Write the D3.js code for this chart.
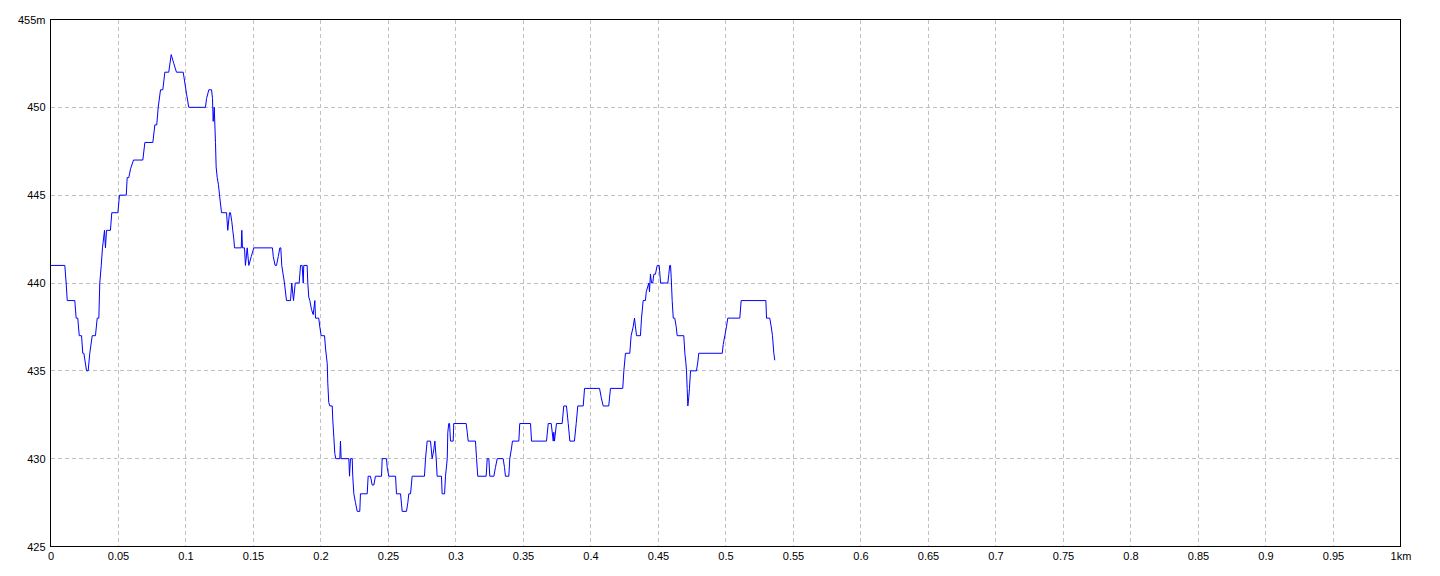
<!DOCTYPE html>
<html>
<head>
<meta charset="utf-8">
<script src="https://cdn.jsdelivr.net/npm/d3@7"></script>
<style>
  html, body { margin: 0; padding: 0; background: #fff; }
  svg { display: block; }
  .tick text { font-family: "Liberation Sans", "DejaVu Sans", sans-serif; font-size: 11px; fill: #000; }
</style>
</head>
<body>
<svg id="chart" width="1440" height="576"></svg>
<script>
// distance along route (metres)
const distM = [
0,10.6,11.6,12.4,18.0,19.0,20.2,21.3,23.0,23.9,24.7,26.7,27.9,29.1,30.9,33.3,34.6,35.8,36.5,37.6,
38.5,40.0,40.7,41.5,44.4,45.4,49.9,51.1,56.1,56.8,58.0,59.3,61.5,68.4,69.9,75.8,77.3,78.7,79.8,81.5,
83.2,84.7,87.6,89.4,91.3,93.3,98.3,99.3,100.7,102.4,114.8,115.6,117.3,119.3,120.0,120.5,121.3,122.2,122.7,123.5,
124.4,125.2,126.7,130.4,131.3,132.6,133.3,134.3,135.0,135.8,136.3,141.3,141.7,142.2,143.7,144.4,145.7,146.9,148.7,150.6,
164.4,165.0,166.4,167.4,168.7,169.9,170.6,171.3,173.3,174.8,177.8,178.7,180.0,181.3,184.2,185.2,186.4,187.2,187.6,190.1,
190.6,191.3,192.1,193.3,194.6,195.8,196.3,198.7,199.5,200.5,203.0,203.7,205.0,205.4,206.1,206.9,208.7,209.1,209.9,210.6,
211.3,214.3,214.8,215.3,221.0,221.5,222.2,223.5,223.9,224.7,225.9,227.2,229.1,229.6,234.6,235.3,237.0,238.3,239.5,240.7,
245.2,245.7,248.9,249.4,250.6,255.6,256.3,259.3,260.5,263.7,264.7,265.4,266.7,267.9,277.0,277.8,279.0,281.5,282.7,283.9,
284.7,285.7,286.4,289.6,290.1,291.9,292.6,293.9,294.3,295.0,295.6,296.3,298.3,298.7,307.9,308.7,309.4,314.8,315.6,316.5,
322.7,323.5,324.7,325.4,328.4,329.6,330.9,335.3,336.3,337.0,339.5,340.2,341.3,342.2,346.9,347.6,355.6,356.3,367.4,368.7,
370.9,372.4,372.8,373.3,374.8,379.0,380.2,382.2,383.5,384.7,388.1,389.4,390.6,394.6,395.6,406.7,407.9,409.4,413.5,414.8,
423.9,424.7,425.9,429.1,430.1,431.6,432.6,433.3,434.1,437.0,437.8,439.0,440.7,441.3,443.2,443.7,444.4,445.2,446.1,446.9,
448.1,449.4,450.9,451.9,457.3,458.0,458.7,459.3,459.8,460.5,461.3,462.4,463.5,464.2,469.1,469.9,470.6,471.1,471.6,472.1,
472.8,473.3,474.1,478.5,479.5,480.2,497.6,498.3,499.5,500.7,501.7,510.6,511.6,529.9,530.4,532.8,533.9,534.8,535.8,536.5
];
// elevation (metres)
const elevM = [
441,441,440,439,439,438,438,437,437,436,436,435,435,436,437,437,438,438,440,441,
442,443,442,443,443,444,444,445,445,446,446,446.5,447,447,448,448,449,449,450,451,
451,452,452,453,452.5,452,452,451.5,450.8,450,450,450.5,451,451,450.5,449.2,450,448,446.6,446,
445.6,445,444,444,443,444,444,443.5,443,442.5,442,442,443,442,442,441,442,441,441.5,442,
442,441.5,441,441,441.5,442,442,441,440,439,439,440,439,440,440,441,441,440,441,441,
440,439.2,439,438.5,438.2,439,438,438,437.5,437,437,436.3,435.4,434.3,433.2,433,433,432.2,431.2,430.3,
430,430,431,430,430,429,430,430,429,428,427.5,427,427,428,428,429,429,428.5,428.5,429,
429,430,430,429.5,429,429,428,428,427,427,427.5,428,428,429,429,430,431,431,430,430.5,
431,430,429,429,428,428,429,430,431.5,432,432,431,431,432,432,431.5,431,431,430,429,
429,430,430,429,429,429.5,430,430,429.5,429,429,430,430.5,431,431,432,432,431,431,432,
432,431,431.5,431,432,432,433,433,432,431,431,432,433,433,434,434,433.5,433,433,434,
434,435,436,436,437,437.5,438,437.5,437,437,438,439,439,439.5,440,439.5,440.5,440,440,440.5,
440.5,441,441,440,440,440.5,441,441,440.3,439,438,438,437.5,437,437,436,435.5,435,434,433,
433.5,434,435,435,435.5,436,436,436.5,437,437.5,438,438,439,439,438,438,437.5,437,436,435.6
];
const xTickValues = [0,0.05,0.1,0.15,0.2,0.25,0.3,0.35,0.4,0.45,0.5,0.55,0.6,0.65,0.7,0.75,0.8,0.85,0.9,0.95,1];
const xTickLabels = ["0","0.05","0.1","0.15","0.2","0.25","0.3","0.35","0.4","0.45","0.5","0.55","0.6","0.65","0.7","0.75","0.8","0.85","0.9","0.95","1km"];
const yTickValues = [425,430,435,440,445,450,455];
const yTickLabels = ["425","430","435","440","445","450","455m"];

const data = distM.map((d, i) => ({ km: d / 1000, e: elevM[i] }));

const svg = d3.select("#chart");
const L = 50.5, R = 1400.5, T = 19.5, B = 546.5;
const x = d3.scaleLinear().domain([0, 1]).range([L, R]);
const y = d3.scaleLinear().domain([425, 455]).range([B, T]);

// grid
const grid = svg.append("g").attr("stroke", "#c0c0c0").attr("stroke-width", 1)
  .attr("stroke-dasharray", "4,3").attr("shape-rendering", "crispEdges");
grid.selectAll("line.v").data(xTickValues.slice(1, -1)).join("line")
  .attr("x1", d => Math.round(x(d) - 0.5) + 0.5).attr("x2", d => Math.round(x(d) - 0.5) + 0.5)
  .attr("y1", T).attr("y2", B);
grid.selectAll("line.h").data(yTickValues.slice(1, -1)).join("line")
  .attr("y1", d => Math.round(y(d) - 0.5) + 0.5).attr("y2", d => Math.round(y(d) - 0.5) + 0.5)
  .attr("x1", L).attr("x2", R);

// line
const line = d3.line().x(d => x(d.km)).y(d => y(d.e));
svg.append("path").datum(data)
  .attr("fill", "none").attr("stroke", "#0000ff").attr("stroke-width", 1)
  .attr("stroke-linejoin", "miter")
  .attr("d", line);

// frame
svg.append("rect").attr("x", L).attr("y", T).attr("width", R - L).attr("height", B - T)
  .attr("fill", "none").attr("stroke", "#000").attr("stroke-width", 1)
  .attr("shape-rendering", "crispEdges");

// axes
const xAxis = d3.axisBottom(x).tickValues(xTickValues).tickSize(0).tickPadding(6)
  .tickFormat((d, i) => xTickLabels[i]);
svg.append("g").attr("transform", `translate(0,${B})`).call(xAxis)
  .call(g => g.select(".domain").remove());

const yAxis = d3.axisLeft(y).tickValues(yTickValues).tickSize(0).tickPadding(5)
  .tickFormat((d, i) => yTickLabels[i]);
svg.append("g").attr("transform", `translate(${L},0)`).call(yAxis)
  .call(g => g.select(".domain").remove());
</script>
</body>
</html>
